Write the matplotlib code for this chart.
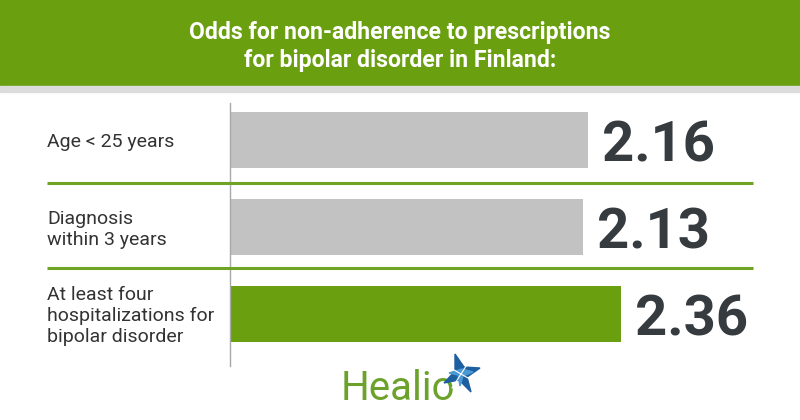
import matplotlib
matplotlib.use("Agg")
import matplotlib.pyplot as plt
import matplotlib.transforms as mtransforms
from matplotlib.patches import Rectangle, Polygon

categories = ["Age < 25 years", "Diagnosis\nwithin 3 years", "At least four\nhospitalizations for\nbipolar disorder"]
values = [2.16, 2.13, 2.36]
value_labels = ["2.16", "2.13", "2.36"]
title_lines = ["Odds for non-adherence to prescriptions", "for bipolar disorder in Finland:"]

GREEN = "#6a9f10"
GRAY_BAR = "#c2c2c2"
DARK = "#363b40"
W, H = 800, 420

fig = plt.figure(figsize=(8, 4.2), dpi=100)
fig.patch.set_facecolor("white")

def fx(px):
    return px / W

def fy(py):
    return 1 - py / H

# header band
fig.patches.append(Rectangle((0, fy(86)), 1, 86 / H, transform=fig.transFigure, color=GREEN, zorder=0))
fig.patches.append(Rectangle((0, fy(92)), 1, 6 / H, transform=fig.transFigure, color="#dcdcdc", zorder=0))
for line, base in zip(title_lines, [38.5, 67.5]):
    fig.text(0.5, fy(base), line, ha="center", va="baseline", color="white",
             fontsize=16.6, fontweight="bold", family=["Roboto", "DejaVu Sans"])

# bars axes
ax_left, ax_top, ax_right, ax_bottom = 230, 103, 790, 366
ax = fig.add_axes([fx(ax_left), fy(ax_bottom), (ax_right - ax_left) / W, (ax_bottom - ax_top) / H])
ax.set_facecolor("none")
px_per_unit = 165.7
ax.set_xlim(0, (ax_right - ax_left) / px_per_unit)
ax.set_ylim(2.598, -0.425)

colors = [GRAY_BAR, GRAY_BAR, GREEN]
ypos = list(range(len(values)))
ax.barh(ypos, values, height=0.644, color=colors, zorder=2)

for spine in ["top", "right", "bottom"]:
    ax.spines[spine].set_visible(False)
ax.spines["left"].set_color("#a8a8a8")
ax.spines["left"].set_linewidth(1)
ax.set_xticks([])
ax.set_yticks([])

# separators
blend = mtransforms.blended_transform_factory(fig.transFigure, ax.transData)
for ysep in [0.495, 1.47]:
    ax.plot([fx(47), fx(753)], [ysep, ysep], transform=blend, color="#6fa324",
            linewidth=2.2, clip_on=False, zorder=3, solid_capstyle="butt")

# category labels
for y, cat in zip(ypos, categories):
    ax.annotate(cat, xy=(fx(47), y), xycoords=blend, xytext=(0, -1.5), textcoords="offset points",
                ha="left", va="center", fontsize=14, color="#333333",
                family=["Roboto", "DejaVu Sans"], linespacing=1.22, annotation_clip=False)

# value labels
for y, v, lab in zip(ypos, values, value_labels):
    ax.annotate(lab, xy=(v, y), xytext=(10, -15.8), textcoords="offset points",
                ha="left", va="baseline", fontsize=40.5, fontweight="bold",
                color=DARK, family=["Roboto", "DejaVu Sans"], annotation_clip=False)

# Healio logo
fig.text(fx(341), fy(400), "Healio", ha="left", va="baseline", fontsize=29,
         color="#6ca22c", family=["Roboto", "DejaVu Sans"])
cx, cy = 461, 374
star = [(cx - 6, cy - 20), (cx + 3, cy - 7), (cx + 19, cy - 6), (cx + 6, cy + 3),
        (cx + 10, cy + 18), (cx - 2, cy + 6), (cx - 17, cy + 9), (cx - 6, cy - 3)]
fig.patches.append(Polygon([(fx(a), fy(b)) for a, b in star], closed=True,
                           transform=fig.transFigure, color="#1d5fa0", zorder=5))
star2 = [(cx + 1, cy - 5), (cx + 12, cy - 2), (cx + 2, cy + 2), (cx - 1, cy + 12),
         (cx - 3, cy + 1), (cx - 12, cy - 1)]
fig.patches.append(Polygon([(fx(a), fy(b)) for a, b in star2], closed=True,
                           transform=fig.transFigure, color="#4a9ad6", zorder=6))
for (a0, b0, a1, b1) in [(cx - 14, cy - 8, cx + 14, cy + 8), (cx + 9, cy - 14, cx - 9, cy + 14)]:
    fig.add_artist(plt.Line2D([fx(a0), fx(a1)], [fy(b0), fy(b1)], transform=fig.transFigure,
                              color="white", linewidth=0.8, zorder=7))

fig.savefig("out.png", dpi=100, facecolor="white")
